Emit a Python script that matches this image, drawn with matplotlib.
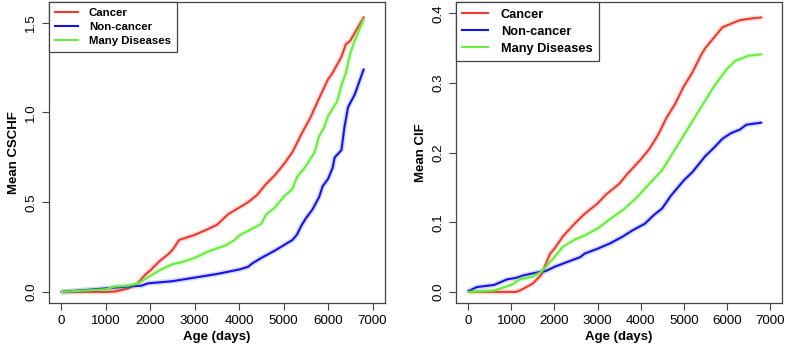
import matplotlib
matplotlib.use("Agg")
from matplotlib import pyplot as plt

plt.rcParams['font.family'] = ['Liberation Sans', 'DejaVu Sans']

labels = ["Cancer", "Non-cancer", "Many Diseases"]
colors = ["#f03a2e", "#1414e6", "#66ee3a"]

# left panel: mean CSCHF
age_c1 = [0, 1000, 1200, 1500, 1700, 1900, 2000, 2200, 2400, 2500, 2650, 3000, 3250, 3500, 3750,
          4000, 4200, 4400, 4600, 4800, 5000, 5200, 5400, 5600, 5800, 6000, 6100, 6300, 6400, 6500, 6800]
cschf_cancer = [0, 0, 0.002, 0.02, 0.045, 0.1, 0.12, 0.17, 0.21, 0.235, 0.29, 0.318, 0.345, 0.374, 0.433,
                0.47, 0.5, 0.54, 0.6, 0.65, 0.71, 0.78, 0.88, 0.97, 1.08, 1.185, 1.22, 1.31, 1.38, 1.4, 1.53]
age_n1 = [0, 500, 1000, 1500, 1800, 1950, 2500, 3000, 3500, 4000, 4200, 4300, 4500, 4800, 5000, 5200,
          5300, 5400, 5500, 5650, 5800, 5880, 6000, 6100, 6150, 6300, 6370, 6450, 6600, 6800]
cschf_noncancer = [0, 0.01, 0.02, 0.03, 0.035, 0.048, 0.06, 0.08, 0.1, 0.125, 0.14, 0.16, 0.19, 0.23,
                   0.26, 0.29, 0.32, 0.37, 0.41, 0.46, 0.53, 0.59, 0.63, 0.69, 0.75, 0.79, 0.92, 1.03,
                   1.1, 1.24]
age_m1 = [0, 1000, 1200, 1500, 1700, 2000, 2200, 2500, 2700, 3000, 3300, 3700, 3900, 4000, 4200, 4500,
          4600, 4800, 5000, 5200, 5300, 5500, 5700, 5800, 5900, 6000, 6200, 6300, 6400, 6500, 6600, 6800]
cschf_many = [0, 0.015, 0.03, 0.035, 0.045, 0.09, 0.12, 0.155, 0.165, 0.19, 0.225, 0.26, 0.29, 0.315,
              0.34, 0.38, 0.43, 0.47, 0.53, 0.575, 0.64, 0.7, 0.78, 0.87, 0.91, 0.98, 1.06, 1.15, 1.22,
              1.33, 1.4, 1.52]

# right panel: mean CIF
age_c2 = [0, 1100, 1200, 1500, 1700, 1900, 2000, 2200, 2500, 2700, 3000, 3200, 3500, 3700, 4000, 4200,
          4400, 4600, 4800, 5000, 5200, 5400, 5500, 5700, 5900, 6100, 6300, 6500, 6800]
cif_cancer = [0, 0, 0.002, 0.012, 0.025, 0.055, 0.062, 0.08, 0.1, 0.112, 0.127, 0.14, 0.155, 0.17, 0.19,
              0.205, 0.225, 0.25, 0.27, 0.295, 0.315, 0.34, 0.35, 0.365, 0.38, 0.385, 0.39, 0.392, 0.394]
age_n2 = [0, 200, 600, 900, 1100, 1300, 1600, 1800, 2000, 2300, 2600, 2700, 3000, 3300, 3600, 3800,
          4100, 4300, 4500, 4700, 5000, 5200, 5500, 5700, 5900, 6100, 6300, 6450, 6800]
cif_noncancer = [0.001, 0.007, 0.01, 0.018, 0.02, 0.024, 0.028, 0.03, 0.036, 0.043, 0.05, 0.055, 0.062,
                 0.07, 0.08, 0.088, 0.098, 0.11, 0.12, 0.138, 0.16, 0.172, 0.195, 0.207, 0.22, 0.228,
                 0.233, 0.24, 0.243]
age_m2 = [0, 600, 1000, 1200, 1500, 1700, 2000, 2200, 2500, 2700, 3000, 3300, 3600, 3900, 4200, 4500,
          4700, 5000, 5200, 5500, 5700, 6000, 6200, 6500, 6800]
cif_many = [0, 0.002, 0.01, 0.018, 0.022, 0.029, 0.05, 0.065, 0.076, 0.081, 0.091, 0.105, 0.118, 0.135,
            0.155, 0.175, 0.195, 0.225, 0.245, 0.275, 0.295, 0.32, 0.332, 0.339, 0.341]

x_ticks = [0, 1000, 2000, 3000, 4000, 5000, 6000, 7000]

fig = plt.figure(figsize=(7.96, 3.52), dpi=100)
ax1 = fig.add_axes([0.0616, 0.139, 0.422, 0.855])
ax2 = fig.add_axes([0.573, 0.139, 0.4095, 0.855])

panels = [
    (ax1, [(age_c1, cschf_cancer), (age_n1, cschf_noncancer), (age_m1, cschf_many)],
     "Mean CSCHF", (-0.062, 1.615), [0.0, 0.5, 1.0, 1.5], 8.2, 0.38),
    (ax2, [(age_c2, cif_cancer), (age_n2, cif_noncancer), (age_m2, cif_many)],
     "Mean CIF", (-0.016, 0.416), [0.0, 0.1, 0.2, 0.3, 0.4], 9.2, 0.4),
]

for ax, series, ylab, ylim, yticks, legsize, lspace in panels:
    for (xs, ys), c, lab in zip(series, colors, labels):
        ax.plot(xs, ys, color=c, lw=3.8, alpha=0.16, solid_capstyle='butt')
        ax.plot(xs, ys, color=c, lw=1.5, label=lab)
    ax.set_xlim(-280, 7280)
    ax.set_ylim(*ylim)
    ax.set_xticks(x_ticks)
    ax.set_yticks(yticks)
    ax.set_yticklabels([f"{v:.1f}" for v in yticks], rotation=90, va='center')
    ax.tick_params(labelsize=9.6, length=5, width=0.8, color='#444444')
    ax.set_xlabel("Age (days)", fontsize=9.5, fontweight='bold', labelpad=3)
    ax.set_ylabel(ylab, fontsize=9.5, fontweight='bold', labelpad=4)
    for s in ax.spines.values():
        s.set_color('#444444')
        s.set_linewidth(0.9)
    leg = ax.legend(loc='upper left', borderaxespad=0, fancybox=False, edgecolor='#444444',
                    prop={'size': legsize, 'weight': 'bold'}, handlelength=2, handletextpad=1.0,
                    labelspacing=lspace, borderpad=0.5, framealpha=1)
    leg.get_frame().set_linewidth(0.9)

fig.savefig("out.png", dpi=100)
